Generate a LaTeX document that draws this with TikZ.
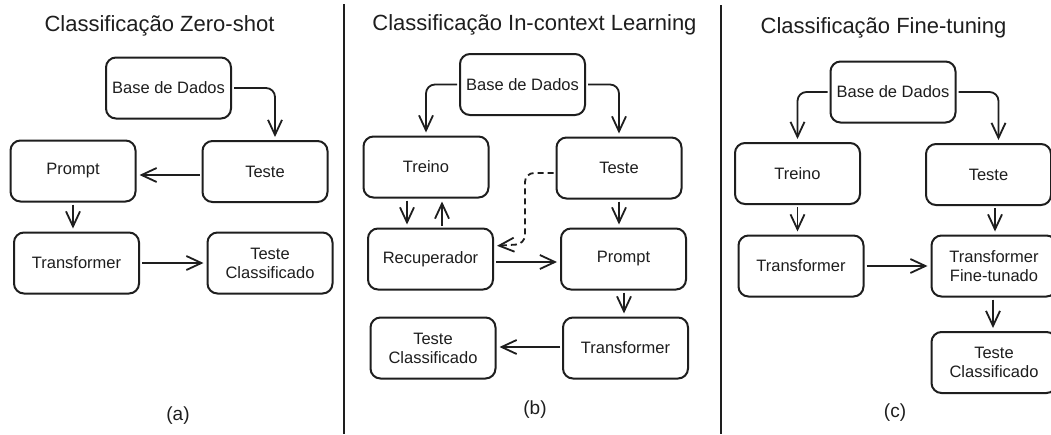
\documentclass[tikz,border=0pt]{standalone}
\usepackage{fontspec}
\setmainfont{Liberation Sans}
\usetikzlibrary{arrows.meta}
\definecolor{ink}{HTML}{1E1E1E}
\begin{document}
\begin{tikzpicture}[x=1pt,y=-1pt,
  box/.style={draw=ink, line width=2pt, rounded corners=10pt,
    minimum width=125pt, minimum height=61pt, align=center, text=ink,
    font=\fontsize{16.5}{19}\selectfont, inner sep=2pt},
  title/.style={anchor=base, text=ink, font=\fontsize{22}{26}\selectfont},
  tag/.style={text=ink, font=\fontsize{19}{22}\selectfont},
  arr/.style={draw=ink, line width=1.8pt,
    -{Straight Barb[length=15pt,width=14pt,line width=1.8pt]},
    shorten >=3pt, shorten <=2pt},
  elbow/.style={arr, rounded corners=9pt},
  divider/.style={draw=ink, line width=2pt}]

% page
\clip (0,0) rectangle (1051,434);
\fill[white] (0,0) rectangle (1051,434);
\useasboundingbox (0,0) rectangle (1051,434);

% panel separators
\coordinate (sepAtop) at (344,4);
\coordinate (sepAbot) at (344,434);
\coordinate (sepBtop) at (721,5);
\coordinate (sepBbot) at (721,434);
\draw[divider] (sepAtop) -- (sepAbot);
\draw[divider] (sepBtop) -- (sepBbot);

% ---------- (a) Zero-shot ----------
\node[title] (aTitle) at (159.5,31) {Classificação Zero-shot};
\node[box] (aBase)   at (168.5,88)   {Base de Dados};
\node[box] (aTeste)  at (265,171.5)  {Teste};
\node[box] (aPrompt) at (73,171)     {Prompt};
\node[box] (aTrans)  at (76.5,263)   {Transformer};
\node[box] (aCls)    at (270,263)    {Teste\\Classificado};
\node[tag] (aTag)    at (178,416)    {(a)};

\draw[elbow] (aBase.east) -| ([xshift=10pt]aTeste.north);
\draw[arr] ([yshift=-3.5pt]aTeste.west) -- ([yshift=-4pt]aPrompt.east);
\draw[arr] (aPrompt.south) -- (aPrompt.south |- aTrans.north);
\draw[arr] (aTrans.east) -- (aCls.west);

% ---------- (b) In-context Learning ----------
\node[title] (bTitle) at (534.5,30) {Classificação In-context Learning};
\node[box] (bBase)   at (522.5,84.5) {Base de Dados};
\node[box] (bTreino) at (426,167)    {Treino};
\node[box] (bTeste)  at (619,168)    {Teste};
\node[box] (bRec)    at (430.5,259)  {Recuperador};
\node[box] (bPrompt) at (623.5,259)  {Prompt};
\node[box] (bCls)    at (433,348)    {Teste\\Classificado};
\node[box] (bTrans)  at (625.5,348)  {Transformer};
\node[tag] (bTag)    at (535,410)    {(b)};

\draw[elbow] (bBase.west) -| (bTreino.north);
\draw[elbow] (bBase.east) -| (bTeste.north);
\draw[arr] ([xshift=-19pt]bTreino.south) -- ([xshift=-23.5pt]bRec.north);
\draw[arr] ([xshift=11.5pt]bRec.north) -- ([xshift=16pt]bTreino.south);
\draw[arr] (bTeste.south) -- (bTeste.south |- bPrompt.north);
\coordinate (bDashTop) at (525,173);
\coordinate (bDashBot) at (525,244);
\draw[elbow, dash pattern=on 6pt off 4pt] ([yshift=-5pt]bTeste.west) -- (bDashTop)
  -- (bDashBot) -- ([yshift=13pt]bRec.east);
\draw[arr] ([yshift=-3pt]bRec.east) -- ([yshift=-3pt]bPrompt.west);
\draw[arr] ([xshift=0.5pt]bPrompt.south) -- ([xshift=-1.5pt]bTrans.north);
\draw[arr] ([yshift=1pt]bTrans.west) -- ([yshift=1pt]bCls.east);

% ---------- (c) Fine-tuning ----------
\node[title] (cTitle) at (883.5,33) {Classificação Fine-tuning};
\node[box] (cBase)   at (893,92)     {Base de Dados};
\node[box] (cTreino) at (797.5,173.5){Treino};
\node[box] (cTeste)  at (988.5,174.5){Teste};
\node[box] (cTrans)  at (801,266)    {Transformer};
\node[box] (cTFT)    at (994,266)    {Transformer\\Fine-tunado};
\node[box] (cCls)    at (994,362.5)  {Teste\\Classificado};
\node[tag] (cTag)    at (895,413)    {(c)};

\draw[elbow] (cBase.west) -| (cTreino.north);
\draw[elbow] (cBase.east) -| ([xshift=10pt]cTeste.north);
\draw[arr] (cTreino.south) -- (cTreino.south |- cTrans.north);
\draw[arr] ([xshift=6.5pt]cTeste.south) -- ([xshift=1pt]cTFT.north);
\draw[arr] (cTrans.east) -- (cTFT.west);
\draw[arr] ([xshift=-1pt]cTFT.south) -- ([xshift=-1pt]cCls.north);
\end{tikzpicture}
\end{document}
